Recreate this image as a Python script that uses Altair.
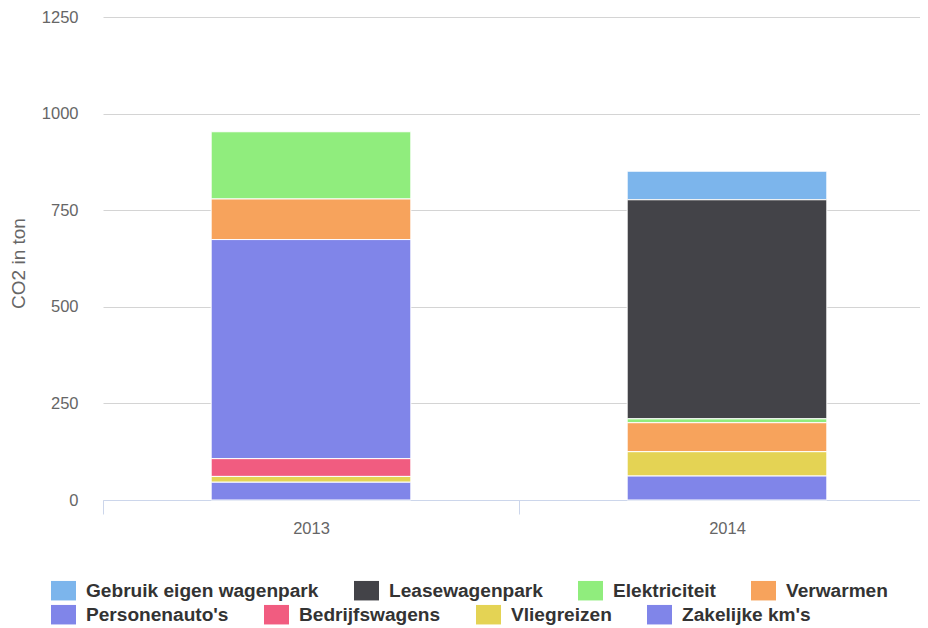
import altair as alt
import pandas as pd

years = ["2013", "2014"]
series = ["Gebruik eigen wagenpark", "Leasewagenpark", "Elektriciteit", "Verwarmen",
          "Personenauto's", "Bedrijfswagens", "Vliegreizen", "Zakelijke km's"]
colors = ["#7cb5ec", "#434348", "#90ed7d", "#f7a35c",
          "#8085e9", "#f15c80", "#e4d354", "#8085e9"]
values_2013 = [0, 0, 174, 105, 567, 46, 15, 46]
values_2014 = [74, 567, 10, 75, 0, 0, 63, 62]
y_ticks = [0, 250, 500, 750, 1000, 1250]

rows = []
for year, vals in zip(years, [values_2013, values_2014]):
    for i, (s, v) in enumerate(zip(series, vals)):
        if v > 0:
            rows.append({"year": year, "series": s, "value": v,
                         "stack": len(series) - i, "legendrow": 1 if i < 4 else 2})
df = pd.DataFrame(rows)

FONT = "Liberation Sans"

x_enc = alt.X("year:N", sort=years,
              scale=alt.Scale(paddingInner=0, paddingOuter=0),
              axis=alt.Axis(title=None, labelAngle=0, tickBand="extent", grid=False,
                            domainColor="#ccd6eb", domainWidth=1,
                            tickColor="#ccd6eb", tickWidth=1, tickSize=14,
                            labelFont=FONT, labelFontSize=16.5, labelColor="#666666",
                            labelPadding=6))
y_enc = alt.Y("y0:Q",
              scale=alt.Scale(domain=[0, 1250], nice=False),
              axis=alt.Axis(title="CO2 in ton", values=y_ticks, format="d", grid=True,
                            gridColor="#d4d4d4", gridWidth=1, domain=False, ticks=False,
                            labelFont=FONT, labelFontSize=16.5, labelColor="#666666",
                            labelPadding=25,
                            titleFont=FONT, titleFontSize=19, titleFontWeight="normal",
                            titleColor="#666666", titleAngle=270, titleAlign="center",
                            titleBaseline="alphabetic", titleX=-79, titleY=246))


def legend_for(y):
    return alt.Legend(title=None, orient="none", legendX=-52, legendY=y,
                      direction="horizontal", columns=4,
                      columnPadding=35, padding=0,
                      symbolType="M-1,-0.78L1,-0.78L1,0.78L-1,0.78Z",
                      symbolSize=625, symbolStrokeWidth=0, symbolOpacity=1,
                      labelFont=FONT, labelFontSize=19.1,
                      labelFontWeight="bold", labelColor="#333333",
                      labelOffset=10, labelLimit=400)


base = alt.Chart(df).transform_stack(
    stack="value", as_=["y0", "y1"], groupby=["year"],
    sort=[alt.SortField("stack", order="ascending")],
)

bars = base.mark_bar(stroke="white", strokeWidth=1, width=alt.RelativeBandSize(0.48))

top_layer = bars.transform_filter(alt.datum.legendrow == 1).encode(
    x=x_enc, y=y_enc, y2="y1:Q",
    color=alt.Color("series:N", scale=alt.Scale(domain=series[:4], range=colors[:4]),
                    legend=legend_for(561)),
)
bottom_layer = bars.transform_filter(alt.datum.legendrow == 2).encode(
    x=x_enc, y=y_enc, y2="y1:Q",
    color=alt.Color("series:N", scale=alt.Scale(domain=series[4:], range=colors[4:]),
                    legend=legend_for(585)),
)

chart = alt.layer(top_layer, bottom_layer).resolve_scale(color="independent").properties(
    width=832, height=483,
    autosize=alt.AutoSizeParams(type="none"),
    padding={"left": 95, "top": 9, "right": -15, "bottom": 128},
).configure_view(strokeWidth=0)

chart.save("out.html", embed_options={"renderer": "svg", "actions": False})
